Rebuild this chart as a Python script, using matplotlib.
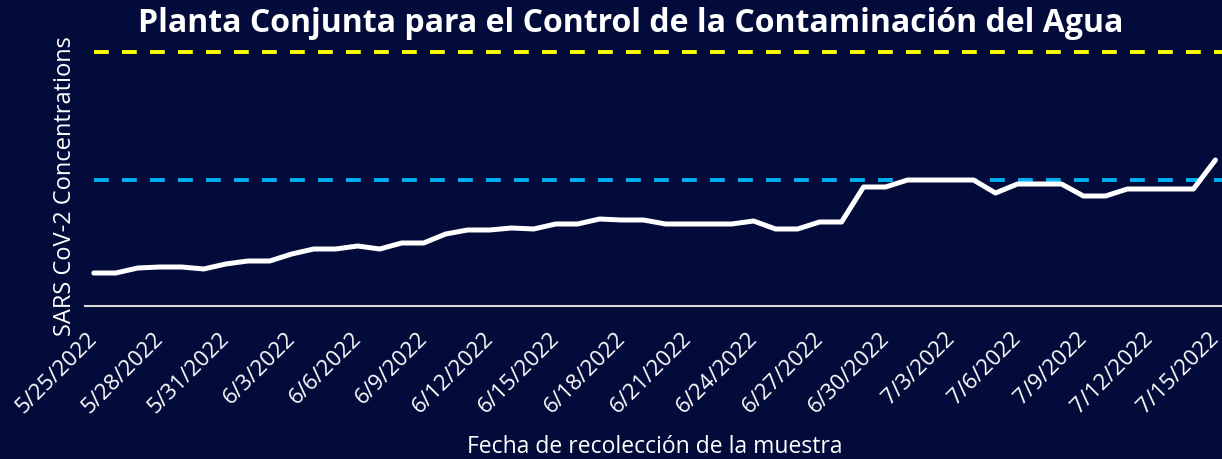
import matplotlib
matplotlib.use("Agg")
import matplotlib.pyplot as plt
import matplotlib.transforms as mtransforms
import numpy as np
import datetime as dt

start = dt.date(2022, 5, 25)
values = [33, 33, 38, 39, 39, 37, 42, 45, 45, 52, 57, 57, 60, 57, 63, 63, 72, 76,
          76, 78, 77, 82, 82, 87, 86, 86, 82, 82, 82, 82, 85, 77, 77, 84, 84, 119,
          119, 126, 126, 126, 126, 113, 122, 122, 122, 110, 110, 117, 117, 117, 117, 146]
dates = [start + dt.timedelta(days=i) for i in range(len(values))]
tick_labels = [f"{d.month}/{d.day}/{d.year}" for d in dates[::3]]
cyan_level = 126
yellow_level = 254

title = "Planta Conjunta para el Control de la Contaminación del Agua"
ylabel = "SARS CoV-2 Concentrations"
xlabel = "Fecha de recolección de la muestra"

bg = '#030b3a'
plt.rcParams['font.family'] = ['Open Sans', 'DejaVu Sans']

fig = plt.figure(figsize=(12.22, 4.59), dpi=100, facecolor=bg)
ax = fig.add_axes([85/1222, 1-306/459, 1137/1222, 266/459])
ax.set_facecolor(bg)

x = np.arange(len(values))
ax.plot(x, values, color='white', lw=3.6, solid_joinstyle='round', solid_capstyle='round', zorder=3)
ax.hlines(yellow_level, 0, 51.3, colors='#ffff00', lw=2.8, linestyles=(0, (3.8, 3.4)), zorder=2)
ax.hlines(cyan_level, 0, 51.3, colors='#00b0f0', lw=2.8, linestyles=(0, (3.8, 3.4)), zorder=2)

ax.set_xlim(-0.4, 51.3)
ax.set_ylim(0, 266)
for s in ['top', 'right', 'left']:
    ax.spines[s].set_visible(False)
ax.spines['bottom'].set_color('#d9d9d9')
ax.spines['bottom'].set_linewidth(1.5)
ax.set_yticks([])
ax.set_xticks(x[::3])
ax.set_xticklabels(tick_labels, rotation=45, ha='right', rotation_mode='anchor',
                   color='white', fontsize=16)
ax.tick_params(axis='x', length=0, pad=16)
offset = mtransforms.ScaledTranslation(-7/100, 0, fig.dpi_scale_trans)
for lbl in ax.get_xticklabels():
    lbl.set_transform(lbl.get_transform() + offset)

fig.text(65/1222, 1-186.5/459, ylabel, color='white', fontsize=17, rotation=90,
         ha='center', va='center')
fig.text(655/1222, 1-447/459, xlabel, color='white', fontsize=16.5,
         ha='center', va='center')
fig.text(0.516, 0.948, title, color='white', fontsize=23, fontweight='bold',
         ha='center', va='center')

fig.savefig('out.png', dpi=100, facecolor=bg)
